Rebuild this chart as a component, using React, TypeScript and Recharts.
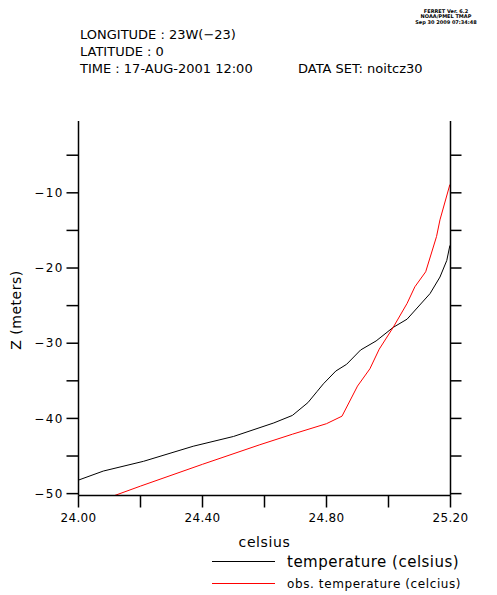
import React from "react";
import { LineChart, Line, XAxis, YAxis } from "recharts";

// model profile (temperature vs depth)
const modelTemp = [24.0, 24.08, 24.21, 24.37, 24.5, 24.63, 24.69, 24.74, 24.77, 24.79, 24.83, 24.865, 24.91, 24.96, 25.015, 25.06, 25.134, 25.166, 25.188, 25.198];
const modelDepth = [-48.2, -47.0, -45.7, -43.7, -42.4, -40.6, -39.6, -37.9, -36.4, -35.4, -33.7, -32.8, -30.9, -29.7, -27.9, -26.8, -23.4, -21.2, -19.0, -17.0];

// observed profile
const obsTemp = [24.1, 24.2, 24.4, 24.585, 24.69, 24.8, 24.85, 24.9, 24.94, 24.97, 25.015, 25.06, 25.085, 25.12, 25.155, 25.166, 25.198];
const obsDepth = [-50.5, -49.0, -46.1, -43.5, -42.1, -40.7, -39.7, -35.7, -33.4, -30.8, -27.9, -24.7, -22.5, -20.5, -15.8, -13.6, -8.9];

const xTicks = [24.0, 24.2, 24.4, 24.6, 24.8, 25.0, 25.2];
const yTicks = [-50, -45, -40, -35, -30, -25, -20, -15, -10, -5];

const headerLines = ["LONGITUDE : 23W(\u221223)", "LATITUDE : 0", "TIME : 17-AUG-2001 12:00"];
const dataSetLabel = "DATA SET: noitcz30";
const stampLines = ["FERRET Ver. 6.2", "NOAA/PMEL TMAP", "Sep 30 2009 07:34:48"];

const modelData = modelTemp.map((t, i) => ({ t, z: modelDepth[i] }));
const obsData = obsTemp.map((t, i) => ({ t, z: obsDepth[i] }));

const FONT = "'DejaVu Sans', sans-serif";

const BottomTick = (props: any) => {
  const { x, y, payload } = props;
  const v = payload.value;
  if (Math.round(v * 10) % 4 !== 0) return <g />;
  return (
    <text x={x} y={y} dy="0.71em" textAnchor="middle" fontFamily={FONT} fontSize={12} letterSpacing={0.3} fill="#000">
      {v.toFixed(2)}
    </text>
  );
};

const LeftTick = (props: any) => {
  const { x, y, payload } = props;
  const v = payload.value;
  if (v % 10 !== 0) return <g />;
  return (
    <text x={x + 1.5} y={y} dy="0.355em" textAnchor="end" fontFamily={FONT} fontSize={12} letterSpacing={1.5} fill="#000">
      {String(v).replace("-", "\u2212")}
    </text>
  );
};

const NoLabel = () => <g />;

const axisStroke = { stroke: "#000", strokeWidth: 1.5 };

export default function App() {
  return (
    <div style={{ position: "absolute", left: 0, top: 0, width: 497, height: 595, background: "#fff" }}>
      <LineChart
        width={497}
        height={595}
        margin={{ top: 121, right: 26.5, bottom: 69.5, left: 18.5 }}
      >
        <XAxis
          dataKey="t"
          type="number"
          domain={[24, 25.2]}
          ticks={xTicks}
          allowDataOverflow
          height={30}
          tickSize={12}
          tickMargin={6}
          axisLine={axisStroke}
          tickLine={axisStroke}
          tick={BottomTick}
          interval={0}
        />
        <XAxis
          xAxisId="top"
          orientation="top"
          type="number"
          domain={[24, 25.2]}
          ticks={xTicks}
          allowDataOverflow
          height={0}
          tickSize={11}
          axisLine={axisStroke}
          tickLine={axisStroke}
          tick={NoLabel}
          interval={0}
        />
        <YAxis
          type="number"
          domain={[-50.25, -0.45]}
          ticks={yTicks}
          allowDataOverflow
          width={60}
          tickSize={12}
          tickMargin={4}
          axisLine={axisStroke}
          tickLine={axisStroke}
          tick={LeftTick}
          interval={0}
        />
        <YAxis
          yAxisId="right"
          orientation="right"
          type="number"
          domain={[-50.25, -0.45]}
          ticks={yTicks}
          allowDataOverflow
          width={20}
          tickSize={11}
          axisLine={axisStroke}
          tickLine={axisStroke}
          tick={NoLabel}
          interval={0}
        />
        <Line data={modelData} dataKey="z" type="linear" stroke="#000" strokeWidth={1} dot={false} isAnimationActive={false} />
        <Line data={obsData} dataKey="z" type="linear" stroke="#ff0000" strokeWidth={1} dot={false} isAnimationActive={false} />
      </LineChart>
      <svg
        width={497}
        height={595}
        style={{ position: "absolute", left: 0, top: 0, pointerEvents: "none" }}
        fontFamily={FONT}
      >
        {headerLines.map((s, i) => (
          <text key={s} x={80} y={39 + i * 17} fontSize={13} fill="#000">
            {s}
          </text>
        ))}
        <text x={298} y={73} fontSize={13} fill="#000">
          {dataSetLabel}
        </text>
        {stampLines.map((s, i) => (
          <text key={s} x={446} y={12.5 + i * 5.5} fontSize={5} fontWeight="bold" textAnchor="middle" fill="#000">
            {s}
          </text>
        ))}
        <text x={16} y={310} fontSize={14} letterSpacing={0.5} textAnchor="middle" dominantBaseline="central" transform="rotate(-90 16 310)" fill="#000">
          Z (meters)
        </text>
        <text x={264.5} y={547} fontSize={14} letterSpacing={0.6} textAnchor="middle" fill="#000">
          celsius
        </text>
        <line x1={212} x2={275} y1={561.5} y2={561.5} stroke="#000" strokeWidth={1} />
        <text x={287} y={566.5} fontSize={15} letterSpacing={0.5} fill="#000">
          temperature (celsius)
        </text>
        <line x1={212} x2={275} y1={583.5} y2={583.5} stroke="#ff0000" strokeWidth={1} />
        <text x={287} y={587.5} fontSize={12} letterSpacing={0.6} fill="#000">
          obs. temperature (celcius)
        </text>
      </svg>
    </div>
  );
}
